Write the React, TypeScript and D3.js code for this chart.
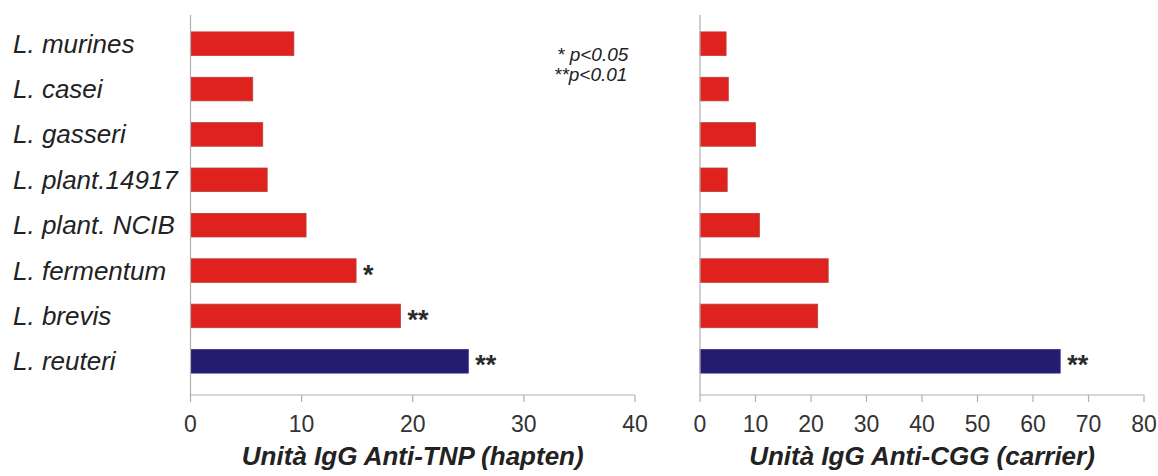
import React from "react";
import * as d3 from "d3";

const strains = [
  "L. murines",
  "L. casei",
  "L. gasseri",
  "L. plant.14917",
  "L. plant. NCIB",
  "L. fermentum",
  "L. brevis",
  "L. reuteri",
];
const haptenValues = [9.3, 5.6, 6.5, 6.9, 10.4, 14.9, 18.9, 25.0];
const carrierValues = [4.7, 5.1, 10.0, 4.9, 10.7, 23.1, 21.2, 64.9];
const haptenStars = ["", "", "", "", "", "*", "**", "**"];
const carrierStars = ["", "", "", "", "", "", "", "**"];
const haptenTicks = [0, 10, 20, 30, 40];
const carrierTicks = [0, 10, 20, 30, 40, 50, 60, 70, 80];

const RED = "#df221d";
const NAVY = "#241c70";
const FONT = "'Liberation Sans', Arial, sans-serif";

const y = d3
  .scaleBand<string>()
  .domain(strains)
  .range([21, 384])
  .paddingInner(0.48)
  .paddingOuter(0.24);

type PanelProps = {
  x0: number;
  x1: number;
  max: number;
  values: number[];
  stars: string[];
  ticks: number[];
  title: string;
};

function Panel({ x0, x1, max, values, stars, ticks, title }: PanelProps) {
  const x = d3.scaleLinear().domain([0, max]).range([x0, x1]);
  const axisY = 395;
  return (
    <g>
      {values.map((v, i) => (
        <g key={strains[i]}>
          <rect
            x={x(0)}
            y={y(strains[i])}
            width={x(v) - x(0)}
            height={y.bandwidth()}
            fill={i === strains.length - 1 ? NAVY : RED}
            stroke={i === strains.length - 1 ? "#3a3080" : "#b8403a"}
            strokeWidth={0.8}
          />
          {stars[i] && (
            <text
              x={x(v) + 7}
              y={(y(strains[i]) ?? 0) + y.bandwidth() / 2 + 13}
              fontSize={27}
              fontWeight="bold"
              fill="#2a2a2a"
              fontFamily={FONT}
            >
              {stars[i]}
            </text>
          )}
        </g>
      ))}
      <line x1={x(0)} x2={x(0)} y1={15} y2={axisY} stroke="#b0b0b0" strokeWidth={1.2} />
      <line x1={x(0)} x2={x(max)} y1={axisY} y2={axisY} stroke="#b0b0b0" strokeWidth={1.2} />
      {ticks.map((t) => (
        <g key={t}>
          <line x1={x(t)} x2={x(t)} y1={axisY} y2={axisY + 7} stroke="#b0b0b0" strokeWidth={1.2} />
          <text
            x={x(t)}
            y={432}
            textAnchor="middle"
            fontSize={23}
            fill="#333"
            fontFamily={FONT}
          >
            {t}
          </text>
        </g>
      ))}
      <text
        x={(x0 + x1) / 2}
        y={465}
        textAnchor="middle"
        fontSize={26}
        fontWeight="bold"
        fontStyle="italic"
        fill="#222"
        fontFamily={FONT}
      >
        {title}
      </text>
    </g>
  );
}

export default function App() {
  return (
    <svg
      width={1158}
      height={476}
      style={{ position: "absolute", left: 0, top: 0, background: "#fff" }}
    >
      {strains.map((s) => (
        <text
          key={s}
          x={13}
          y={(y(s) ?? 0) + y.bandwidth() / 2 + 9}
          fontSize={26}
          fontStyle="italic"
          fill="#222"
          fontFamily={FONT}
        >
          {s}
        </text>
      ))}
      <Panel
        x0={190.5}
        x1={635}
        max={40}
        values={haptenValues}
        stars={haptenStars}
        ticks={haptenTicks}
        title="Unità IgG Anti-TNP (hapten)"
      />
      <Panel
        x0={700}
        x1={1144}
        max={80}
        values={carrierValues}
        stars={carrierStars}
        ticks={carrierTicks}
        title="Unità IgG Anti-CGG (carrier)"
      />
      <text x={557} y={61} fontSize={19} fontStyle="italic" fill="#222" fontFamily={FONT}>
        * p&lt;0.05
      </text>
      <text x={554} y={81} fontSize={19} fontStyle="italic" fill="#222" fontFamily={FONT}>
        **p&lt;0.01
      </text>
    </svg>
  );
}
